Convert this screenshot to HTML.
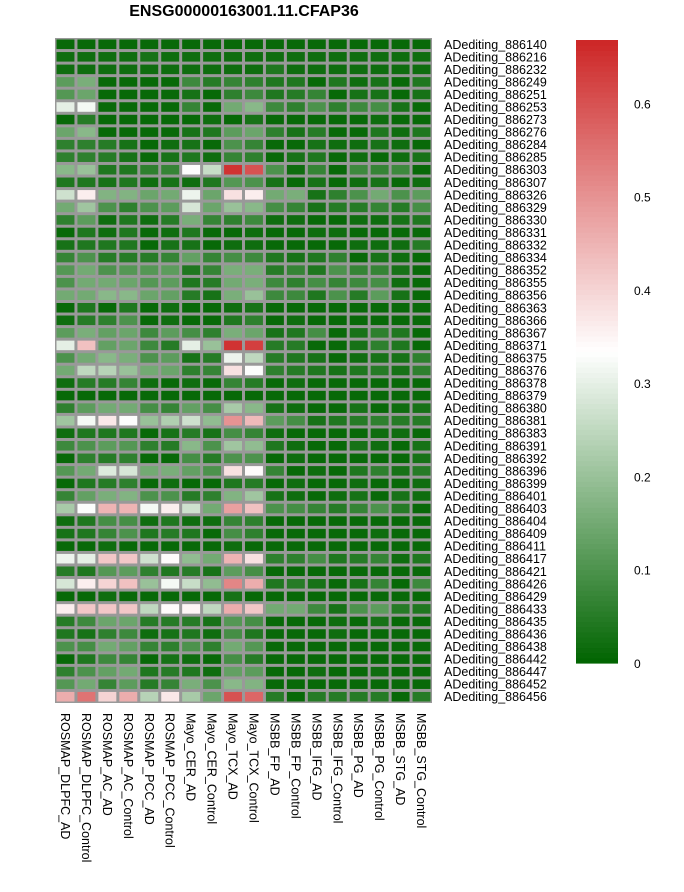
<!DOCTYPE html>
<html><head><meta charset="utf-8"><style>
body{margin:0;background:#fff;}
svg{display:block;font-family:"Liberation Sans",sans-serif;}
</style></head><body>
<svg id="c" width="684" height="892">
<text x="244" y="16" text-anchor="middle" font-size="16" font-weight="bold">ENSG00000163001.11.CFAP36</text>
</svg>
<script>
const cols=["ROSMAP_DLPFC_AD","ROSMAP_DLPFC_Control","ROSMAP_AC_AD","ROSMAP_AC_Control","ROSMAP_PCC_AD","ROSMAP_PCC_Control","Mayo_CER_AD","Mayo_CER_Control","Mayo_TCX_AD","Mayo_TCX_Control","MSBB_FP_AD","MSBB_FP_Control","MSBB_IFG_AD","MSBB_IFG_Control","MSBB_PG_AD","MSBB_PG_Control","MSBB_STG_AD","MSBB_STG_Control"];
const rows=["886140","886216","886232","886249","886251","886253","886273","886276","886284","886285","886303","886307","886326","886329","886330","886331","886332","886334","886352","886355","886356","886363","886366","886367","886371","886375","886376","886378","886379","886380","886381","886383","886391","886392","886396","886399","886401","886403","886404","886409","886411","886417","886421","886426","886429","886433","886435","886436","886438","886442","886447","886452","886456"];
const values=[
[.01,.01,.01,.01,.01,.01,.01,.01,.01,.01,.01,.01,.01,.01,.01,.01,.01,.01],
[.02,.02,.02,.02,.03,.02,.02,.02,.02,.02,.02,.02,.02,.02,.02,.02,.02,.02],
[.02,.02,.02,.02,.02,.02,.02,.02,.02,.02,.04,.02,.02,.02,.02,.02,.02,.02],
[.12,.16,.01,.01,.01,.01,.08,.05,.07,.06,.04,.04,.01,.04,.02,.03,.01,.04],
[.11,.14,.01,.01,.01,.01,.03,.01,.06,.08,.04,.05,.07,.01,.03,.03,.01,.03],
[.30,.32,.01,.01,.01,.01,.07,.01,.15,.18,.08,.06,.10,.06,.08,.09,.03,.01],
[.01,.05,.01,.01,.01,.01,.01,.02,.01,.03,.01,.01,.01,.01,.01,.02,.01,.01],
[.14,.18,.01,.01,.01,.01,.03,.04,.12,.14,.06,.03,.05,.01,.01,.04,.02,.04],
[.06,.06,.05,.03,.01,.02,.03,.01,.10,.07,.01,.01,.03,.02,.02,.03,.02,.01],
[.06,.06,.05,.03,.01,.03,.04,.02,.07,.06,.01,.03,.04,.01,.02,.01,.02,.03],
[.18,.20,.04,.04,.06,.07,.33,.26,.65,.60,.10,.02,.07,.01,.08,.07,.08,.01],
[.04,.04,.03,.04,.02,.03,.02,.04,.11,.10,.03,.01,.03,.01,.02,.03,.01,.02],
[.27,.36,.17,.17,.14,.15,.31,.14,.38,.36,.15,.16,.03,.06,.10,.15,.10,.12],
[.15,.21,.10,.06,.10,.12,.28,.14,.20,.18,.09,.07,.03,.05,.05,.07,.05,.09],
[.06,.12,.02,.04,.02,.05,.16,.07,.06,.08,.02,.02,.01,.01,.02,.02,.03,.04],
[.01,.04,.02,.04,.01,.02,.04,.01,.01,.02,.01,.01,.02,.02,.01,.01,.01,.01],
[.03,.04,.04,.04,.01,.03,.03,.01,.02,.02,.01,.01,.01,.01,.02,.02,.02,.05],
[.07,.10,.05,.05,.05,.07,.13,.07,.09,.08,.04,.03,.04,.06,.01,.03,.02,.01],
[.11,.15,.10,.11,.11,.12,.04,.07,.16,.16,.05,.07,.04,.10,.07,.07,.03,.01],
[.10,.15,.15,.14,.11,.12,.04,.05,.15,.16,.08,.06,.09,.07,.08,.09,.02,.01],
[.15,.15,.18,.18,.14,.13,.05,.03,.16,.20,.08,.08,.04,.10,.05,.12,.03,.01],
[.01,.04,.01,.04,.01,.02,.01,.01,.02,.03,.01,.01,.01,.01,.01,.01,.01,.01],
[.02,.05,.06,.10,.01,.02,.01,.01,.04,.06,.01,.02,.01,.01,.01,.01,.01,.01],
[.12,.16,.13,.14,.08,.12,.09,.06,.16,.14,.03,.04,.09,.01,.03,.06,.04,.01],
[.30,.43,.13,.14,.08,.05,.30,.20,.65,.63,.05,.05,.01,.01,.03,.06,.04,.01],
[.10,.15,.18,.16,.10,.12,.03,.05,.31,.25,.05,.04,.03,.01,.02,.03,.03,.06],
[.15,.25,.24,.20,.15,.14,.06,.07,.38,.33,.06,.05,.04,.03,.04,.05,.03,.06],
[.02,.05,.05,.07,.02,.01,.02,.01,.07,.05,.01,.02,.01,.01,.01,.01,.01,.01],
[.01,.01,.01,.01,.01,.01,.01,.01,.01,.01,.01,.01,.01,.01,.01,.01,.01,.01],
[.06,.12,.15,.15,.09,.07,.13,.09,.22,.18,.03,.02,.01,.01,.03,.01,.02,.03],
[.21,.32,.37,.33,.20,.23,.27,.19,.50,.44,.12,.09,.03,.04,.05,.06,.05,.05],
[.02,.04,.04,.04,.01,.03,.05,.03,.09,.07,.02,.01,.01,.01,.01,.02,.02,.01],
[.08,.10,.12,.11,.06,.05,.18,.10,.21,.19,.04,.02,.01,.01,.03,.02,.01,.03],
[.01,.06,.05,.06,.01,.01,.09,.05,.10,.10,.01,.02,.01,.01,.01,.01,.01,.03],
[.11,.15,.29,.28,.15,.16,.13,.10,.38,.34,.07,.01,.02,.01,.04,.06,.03,.05],
[.01,.04,.05,.06,.01,.02,.01,.01,.04,.05,.01,.02,.01,.01,.02,.01,.01,.02],
[.07,.13,.16,.17,.10,.10,.05,.06,.17,.21,.03,.02,.01,.02,.03,.01,.03,.02],
[.22,.33,.45,.45,.32,.36,.27,.15,.48,.43,.10,.09,.07,.05,.07,.10,.05,.01],
[.02,.04,.09,.09,.02,.04,.02,.02,.07,.06,.01,.01,.01,.01,.01,.01,.01,.01],
[.03,.04,.07,.10,.04,.05,.04,.01,.09,.06,.01,.01,.01,.01,.01,.02,.01,.01],
[.01,.01,.02,.01,.01,.01,.01,.01,.02,.01,.01,.01,.01,.01,.01,.01,.01,.01],
[.31,.30,.42,.42,.27,.34,.19,.15,.45,.38,.06,.06,.09,.04,.05,.07,.02,.04],
[.05,.04,.11,.12,.06,.04,.05,.03,.12,.09,.01,.01,.01,.01,.01,.01,.01,.01],
[.28,.36,.40,.43,.20,.32,.26,.19,.52,.46,.04,.05,.03,.01,.03,.07,.01,.08],
[.01,.01,.02,.01,.01,.01,.01,.01,.03,.01,.01,.01,.01,.01,.01,.01,.01,.01],
[.36,.42,.42,.42,.25,.34,.35,.25,.46,.42,.15,.15,.08,.03,.10,.12,.05,.04],
[.05,.08,.14,.14,.05,.05,.05,.03,.11,.09,.01,.01,.01,.02,.01,.03,.01,.01],
[.04,.03,.06,.08,.02,.03,.04,.02,.09,.04,.01,.01,.01,.02,.01,.01,.01,.01],
[.10,.09,.15,.13,.07,.06,.10,.06,.15,.11,.01,.01,.01,.01,.01,.01,.01,.01],
[.01,.04,.08,.07,.01,.03,.02,.01,.09,.05,.01,.01,.01,.01,.01,.01,.01,.01],
[.06,.10,.13,.15,.04,.05,.04,.02,.13,.12,.01,.01,.02,.01,.01,.02,.01,.01],
[.11,.15,.07,.12,.05,.07,.16,.10,.18,.17,.01,.01,.01,.01,.01,.01,.01,.01],
[.46,.55,.40,.46,.24,.37,.22,.14,.60,.57,.05,.01,.05,.05,.05,.05,.01,.05]];
const legendTicks=[0,0.1,0.2,0.3,0.4,0.5,0.6];
const VMAX=0.668, VMID=0.334;
const GX=55,GY=38,GW=377,GH=665;
const cw=GW/cols.length, rh=GH/rows.length;
function color(v){
  let a,b,t;
  if(v<=VMID){a=[0,100,0];b=[255,255,255];t=v/VMID;}
  else{a=[255,255,255];b=[205,38,38];t=Math.min(1,(v-VMID)/(VMAX-VMID));}
  const c=a.map((x,i)=>Math.round(x+(b[i]-x)*t));
  return `rgb(${c[0]},${c[1]},${c[2]})`;
}
const NS="http://www.w3.org/2000/svg";
const svg=document.getElementById('c');
function mk(tag,attrs){const e=document.createElementNS(NS,tag);for(const k in attrs)e.setAttribute(k,attrs[k]);svg.appendChild(e);return e;}
const bg=mk('rect',{x:GX,y:GY,width:GW,height:GH,fill:'#999'});


rows.forEach((r,i)=>{
  cols.forEach((c,j)=>{
    const e=mk('rect',{x:GX+j*cw+1.5,y:GY+i*rh+1.5,width:cw-3,height:rh-3,fill:color(values[i][j])});
    
    
  });
  const t=mk('text',{x:444,y:GY+(i+0.5)*rh+4.5,'font-size':12.5});
  t.textContent='ADediting_'+r;
  
  
});
cols.forEach((c,j)=>{
  const x=GX+(j+0.5)*cw-4.5, y=713;
  const t=mk('text',{x:x,y:y,'font-size':12.5,transform:`rotate(90 ${x} ${y})`});
  t.textContent=c;
  
  
});
const LX=576,LW=42,LT=40,LB=663;
const N=120;
for(let k=0;k<N;k++){
  const v0=VMAX*k/N;
  const e=mk('rect',{x:LX,y:LB-(LB-LT)*(k+1)/N,width:LW,height:(LB-LT)/N+0.6,fill:color(v0+VMAX/N/2)});
  
  
}
const ly=v=>LB-(LB-LT)*v/VMAX;
legendTicks.forEach(v=>{
  const t=mk('text',{x:634,y:ly(v)+5,'font-size':12});
  t.textContent=String(v);
  
  
});
</script>
</body></html>
